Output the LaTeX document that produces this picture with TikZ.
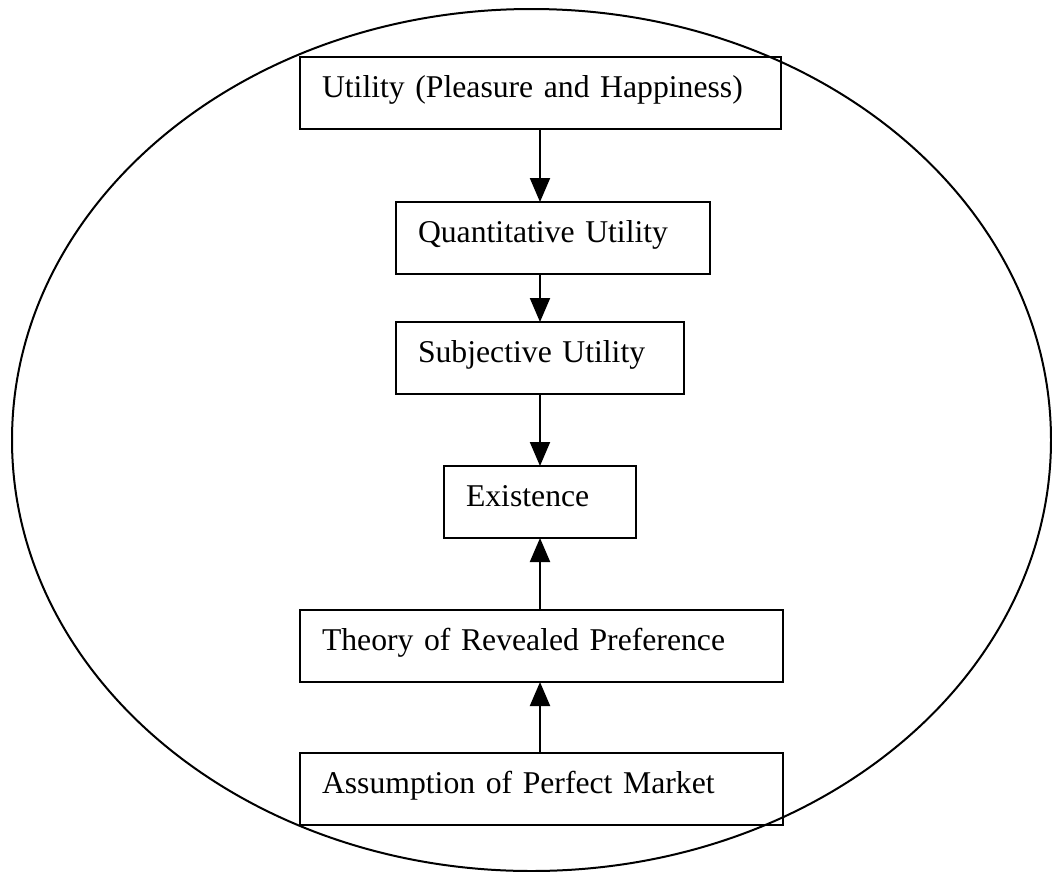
\documentclass[tikz,border=0pt]{standalone}
\usepackage{fontspec}
\setmainfont{Liberation Serif}
\usepackage{tikz}
\usetikzlibrary{positioning,arrows.meta}

\begin{document}
\begin{tikzpicture}[x=1pt,y=-1pt,every node/.style={font=\fontsize{31.7}{38}\selectfont},
      flowbox/.style={draw,line width=2pt,outer sep=0pt,anchor=north west,align=left,inner xsep=22pt,inner ysep=16pt,
        text height=24pt,text depth=16pt,text width=#1},
      arrow/.style={-{Triangle[width=20pt,length=24pt]},line width=2pt}]
      \useasboundingbox (0,0) rectangle (1052,871);
      \draw[line width=2pt] (531.5,440) ellipse [x radius=519.5,y radius=431];
      \node[flowbox=437pt] (util) at (300,57) {Utility (Pleasure and Happiness)};
      \node[flowbox=270pt,below=73pt of util.south west,anchor=north west,xshift=96pt] (quant) {Quantitative Utility};
      \node[flowbox=244pt,below=48pt of quant.south west,anchor=north west] (subj) {Subjective Utility};
      \node[flowbox=148pt,below=72pt of subj.south west,anchor=north west,xshift=48pt] (exist) {Existence};
      \node[flowbox=439pt,below=72pt of exist.south west,anchor=north west,xshift=-144pt] (theory) {Theory of Revealed Preference};
      \node[flowbox=439pt,below=71pt of theory.south west,anchor=north west] (assume) {Assumption of Perfect Market};
      \draw[arrow] (util.south -| exist.north)--(quant.north -| exist.north);
      \draw[arrow] (quant.south -| exist.north)--(subj.north -| exist.north);
      \draw[arrow] (subj.south -| exist.north)--(exist.north);
      \draw[arrow] (theory.north -| exist.south)--(exist.south);
      \draw[arrow] (assume.north -| exist.south)--(theory.south -| exist.south);
    \end{tikzpicture}
\end{document}
